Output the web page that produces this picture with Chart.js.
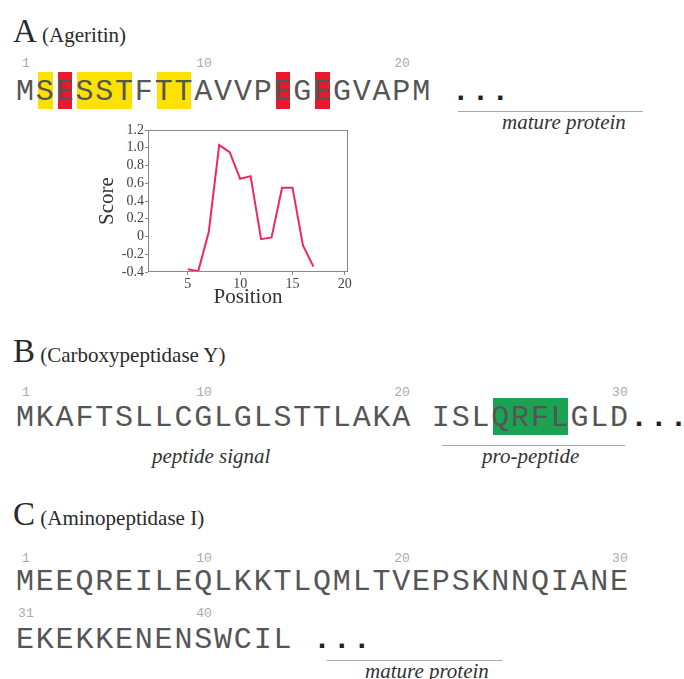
<!DOCTYPE html>
<html>
<head>
<meta charset="utf-8">
<script src="https://cdn.jsdelivr.net/npm/chart.js@4.4.1/dist/chart.umd.min.js"></script>
<style>
  html, body { margin: 0; padding: 0; background: #fff; }
  #fig { position: relative; width: 684px; height: 679px; overflow: hidden; }
  .abs { position: absolute; white-space: pre; }
  .head { font-family: "Liberation Serif", serif; color: #2a2a2a; line-height: normal; }
  .head .big { font-size: 33px; }
  .head .name { font-size: 21px; }
  .seq { font-family: "Liberation Mono", monospace; font-size: 30px; letter-spacing: 1.8px; color: #555; line-height: normal; }
  .seq .dots { font-weight: bold; color: #222; }
  .num { font-family: "Liberation Mono", monospace; font-size: 13px; color: #aaa; width: 19.8px; text-align: center; line-height: 13px; }
  .lbl { font-family: "Liberation Serif", serif; font-style: italic; font-size: 21px; color: #333; line-height: normal; }
  .rule { position: absolute; height: 1px; background: #aaa; }
  .hl { padding: 3px 0 0; background-repeat: no-repeat; background-position: 2px 0; background-size: calc(100% - 5px) 100%; background-origin: border-box; }
  .y { background-image: linear-gradient(#ffe100, #ffe100); }
  .r { background-image: linear-gradient(#e8192c, #e8192c); }
  .g { background-image: linear-gradient(#1aa352, #1aa352); }
  #chartBox { position: absolute; left: 90px; top: 118px; width: 270px; height: 195px; }
</style>
</head>
<body>
<div id="fig">
  <!-- A -->
  <div class="abs head" style="left:13px; top:12.6px;"><span class="big">A</span><span class="name"> (Ageritin)</span></div>
  <div class="abs num" style="left:16px; top:57px;">1</div>
  <div class="abs num" style="left:194.2px; top:57px;">10</div>
  <div class="abs num" style="left:392.2px; top:57px;">20</div>
  <div class="abs seq" style="left:16px; top:75px;">M<span class="hl y">S</span><span class="hl r">E</span><span class="hl y">SST</span>F<span class="hl y">TT</span>AVVP<span class="hl r">E</span>G<span class="hl r">E</span>GVAPM <span class="dots">...</span></div>
  <div class="rule" style="left:458px; top:111px; width:185px;"></div>
  <div class="abs lbl" style="left:502px; top:110px;">mature protein</div>

  <div id="chartBox"><canvas id="scoreChart"></canvas></div>

  <!-- B -->
  <div class="abs head" style="left:13px; top:332.6px;"><span class="big">B</span><span class="name"> (Carboxypeptidase Y)</span></div>
  <div class="abs num" style="left:16px; top:386px;">1</div>
  <div class="abs num" style="left:194.2px; top:386px;">10</div>
  <div class="abs num" style="left:392.2px; top:386px;">20</div>
  <div class="abs num" style="left:610px; top:386px;">30</div>
  <div class="abs seq" style="left:16px; top:401px;">MKAFTSLLCGLGLSTTLAKA ISL<span class="hl g">QRFL</span>GLD<span class="dots">...</span></div>
  <div class="abs lbl" style="left:152px; top:444px;">peptide signal</div>
  <div class="rule" style="left:442px; top:445px; width:183px;"></div>
  <div class="abs lbl" style="left:482px; top:444px;">pro-peptide</div>

  <!-- C -->
  <div class="abs head" style="left:13px; top:495.6px;"><span class="big">C</span><span class="name"> (Aminopeptidase I)</span></div>
  <div class="abs num" style="left:16px; top:552px;">1</div>
  <div class="abs num" style="left:194.2px; top:552px;">10</div>
  <div class="abs num" style="left:392.2px; top:552px;">20</div>
  <div class="abs num" style="left:610px; top:552px;">30</div>
  <div class="abs seq" style="left:16px; top:565px;">MEEQREILEQLKKTLQMLTVEPSKNNQIANE</div>
  <div class="abs num" style="left:16px; top:607px;">31</div>
  <div class="abs num" style="left:194.2px; top:607px;">40</div>
  <div class="abs seq" style="left:16px; top:623px;">EKEKKENENSWCIL <span class="dots">...</span></div>
  <div class="rule" style="left:327px; top:660px; width:176px;"></div>
  <div class="abs lbl" style="left:365px; top:659px;">mature protein</div>
</div>

<script>
// Ageritin propensity score by residue position
const positions = [5, 6, 7, 8, 9, 10, 11, 12, 13, 14, 15, 16, 17];
const scores = [-0.37, -0.39, 0.05, 1.03, 0.95, 0.65, 0.68, -0.03, -0.01, 0.55, 0.55, -0.1, -0.34];
const xTickValues = [5, 10, 15, 20];

const serif = "'Liberation Serif', 'Times New Roman', serif";

// box around the plot area
const frame = {
  id: 'frame',
  afterDraw(chart) {
    const a = chart.chartArea;
    const ctx = chart.ctx;
    ctx.save();
    ctx.strokeStyle = '#8a8a8a';
    ctx.lineWidth = 1;
    ctx.strokeRect(a.left + 0.5, a.top + 0.5, a.right - a.left - 1, a.bottom - a.top - 1);
    ctx.restore();
  }
};

new Chart(document.getElementById('scoreChart').getContext('2d'), {
  type: 'line',
  data: {
    datasets: [{
      data: positions.map((p, i) => ({ x: p, y: scores[i] })),
      borderColor: '#f0285c',
      borderWidth: 2,
      pointRadius: 0,
      tension: 0,
      fill: false
    }]
  },
  options: {
    responsive: true,
    maintainAspectRatio: false,
    animation: false,
    layout: { padding: { top: 12, right: 12, left: 0, bottom: 0 } },
    plugins: { legend: { display: false }, tooltip: { enabled: false } },
    scales: {
      x: {
        type: 'linear',
        min: 1.2,
        max: 20.3,
        afterBuildTicks: s => { s.ticks = xTickValues.map(v => ({ value: v })); },
        afterFit: s => { s.height = 41; },
        grid: { drawOnChartArea: false, drawTicks: true, tickLength: 3, color: '#8a8a8a' },
        border: { display: false },
        ticks: { font: { family: serif, size: 14 }, color: '#444', padding: 1, maxRotation: 0, autoSkip: false },
        title: { display: true, text: 'Position', font: { family: serif, size: 21 }, color: '#333', padding: { top: 0, bottom: 3 } }
      },
      y: {
        min: -0.4,
        max: 1.2,
        afterFit: s => { s.width = 58; },
        grid: { drawOnChartArea: false, drawTicks: true, tickLength: 3, color: '#8a8a8a' },
        border: { display: false },
        ticks: {
          stepSize: 0.2,
          autoSkip: false,
          font: { family: serif, size: 14 },
          color: '#444',
          padding: 1,
          callback: v => Math.abs(v) < 1e-9 ? '0' : (Math.round(v * 10) / 10).toFixed(1)
        },
        title: { display: true, text: 'Score', font: { family: serif, size: 21 }, color: '#333', padding: { top: 5, bottom: 0 } }
      }
    }
  },
  plugins: [frame]
});
</script>
</body>
</html>
